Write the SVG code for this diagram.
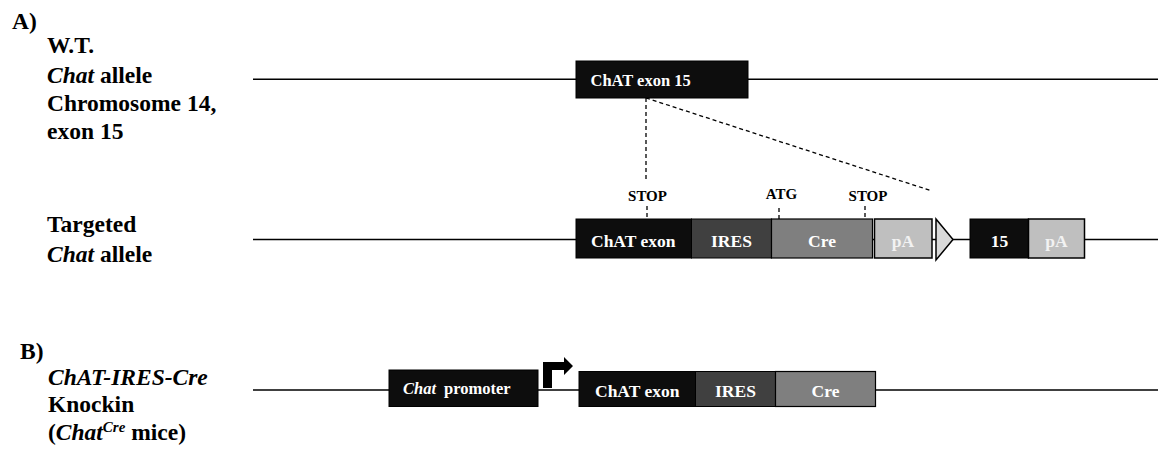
<svg xmlns="http://www.w3.org/2000/svg" width="1158" height="452" viewBox="0 0 1158 452">
<style>
text{font-family:"Liberation Serif","Times New Roman",serif;font-weight:bold;}
.lbl{font-size:23.5px;fill:#000;}
.it{font-style:italic;}
.bx{font-size:17.5px;fill:#fff;}
.bxc{font-size:17.5px;fill:#fff;text-anchor:middle;}
.pa{font-size:17.5px;fill:#f2f2f2;text-anchor:middle;}
.small{font-size:15px;fill:#000;text-anchor:middle;}
.dna{stroke:#000;stroke-width:1.5;fill:none;}
.dash{stroke:#000;stroke-width:1.3;stroke-dasharray:4 3;fill:none;}
.blk{fill:#0d0d0d;stroke:#000;stroke-width:1;}
.ires{fill:#404040;stroke:#000;stroke-width:1;}
.cre{fill:#7f7f7f;stroke:#000;stroke-width:1.2;}
.pab{fill:#bfbfbf;stroke:#000;stroke-width:1.5;}
</style>

<g id="labels">
<text class="lbl" x="12" y="29">A)</text>
<text class="lbl" x="47" y="53">W.T.</text>
<text class="lbl" x="47" y="82.5"><tspan class="it">Chat</tspan> allele</text>
<text class="lbl" x="47" y="111">Chromosome 14,</text>
<text class="lbl" x="47" y="139">exon 15</text>
<text class="lbl" x="47" y="231.5">Targeted</text>
<text class="lbl" x="47" y="261.5"><tspan class="it">Chat</tspan> allele</text>
<text class="lbl" x="20" y="359">B)</text>
<text class="lbl it" x="48" y="385">ChAT-IRES-Cre</text>
<text class="lbl" x="48" y="412">Knockin</text>
<text class="lbl" x="48" y="440">(<tspan class="it">Chat</tspan><tspan class="it" font-size="15" dy="-8">Cre</tspan><tspan dy="8"> mice)</tspan></text>
</g>

<g id="connectors">
<line class="dna" x1="253" y1="79.3" x2="1158" y2="79.3"/>
<line class="dna" x1="253" y1="239.5" x2="1158" y2="239.5"/>
<line class="dna" x1="253" y1="390" x2="1158" y2="390"/>
<line class="dash" x1="646" y1="98" x2="646" y2="182"/>
<line class="dash" x1="646" y1="98" x2="932" y2="191"/>
<line class="dash" x1="647" y1="206" x2="647" y2="219"/>
<line class="dash" x1="779" y1="208" x2="779" y2="219"/>
<line class="dash" x1="865" y1="206" x2="865" y2="219"/>
</g>

<g id="wt-exon15">
<rect class="blk" x="576" y="61" width="172" height="37"/>
<text x="590.5" y="86" font-size="16.5" fill="#fff">ChAT exon 15</text>
</g>

<g id="site-labels">
<text class="small" x="647.5" y="201">STOP</text>
<text class="small" x="781.5" y="199">ATG</text>
<text class="small" x="868" y="201">STOP</text>
</g>

<g id="t-chat-exon">
<rect class="blk" x="576" y="219" width="115.5" height="39"/>
<text class="bx" x="591" y="247">ChAT exon</text>
</g>
<g id="t-ires">
<rect class="ires" x="691.5" y="219" width="80" height="39"/>
<text class="bxc" x="731.5" y="247">IRES</text>
</g>
<g id="t-cre">
<rect class="cre" x="771.5" y="219" width="101" height="39"/>
<text class="bxc" x="822" y="247">Cre</text>
</g>
<g id="t-pa1">
<rect class="pab" x="874.5" y="219" width="57.5" height="39"/>
<text class="pa" x="903" y="247">pA</text>
</g>
<g id="t-frt">
<polygon points="936,219 953,239.5 936,260" fill="#d9d9d9" stroke="#000" stroke-width="1.5"/>
</g>
<g id="t-15">
<rect class="blk" x="970" y="219" width="58.5" height="39"/>
<text class="bxc" x="999.5" y="247">15</text>
</g>
<g id="t-pa2">
<rect class="pab" x="1028.5" y="219" width="56" height="39"/>
<text class="pa" x="1056.5" y="247">pA</text>
</g>

<g id="b-promoter">
<rect class="blk" x="389" y="370" width="149" height="36.5"/>
<text x="403" y="393.5" font-size="16.5" fill="#fff"><tspan class="it">Chat</tspan><tspan dx="8">promoter</tspan></text>
</g>
<g id="b-arrow">
<path d="M543,388 V362 H564 V357 L573,366 L564,375 V370 H552 V388 Z" fill="#000"/>
</g>
<g id="b-chat-exon">
<rect class="blk" x="579" y="371.5" width="116.5" height="35"/>
<text class="bx" x="595" y="397">ChAT exon</text>
</g>
<g id="b-ires">
<rect class="ires" x="695.5" y="371.5" width="80" height="35"/>
<text class="bxc" x="735.5" y="397">IRES</text>
</g>
<g id="b-cre">
<rect class="cre" x="775.5" y="371.5" width="100" height="35"/>
<text class="bxc" x="825.5" y="397">Cre</text>
</g>
</svg>
